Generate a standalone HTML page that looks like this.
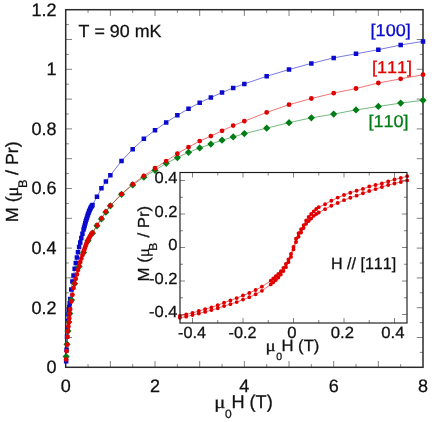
<!DOCTYPE html>
<html><head><meta charset="utf-8"><title>Magnetization</title>
<style>
html,body{margin:0;padding:0;background:#fff;}
body{width:436px;height:422px;overflow:hidden;}
svg{display:block;will-change:transform;text-rendering:geometricPrecision;font-family:"Liberation Sans",sans-serif;font-kerning:none;}
</style></head><body>
<svg width="436" height="422" viewBox="0 0 436 422">
<rect width="436" height="422" fill="#fff"/>
<line x1="88.03" y1="367.30" x2="88.03" y2="364.10" stroke="#5a5a5a" stroke-width="0.75"/>
<line x1="88.03" y1="9.70" x2="88.03" y2="12.90" stroke="#5a5a5a" stroke-width="0.75"/>
<line x1="110.36" y1="367.30" x2="110.36" y2="361.00" stroke="#5a5a5a" stroke-width="0.75"/>
<line x1="110.36" y1="9.70" x2="110.36" y2="16.00" stroke="#5a5a5a" stroke-width="0.75"/>
<line x1="132.69" y1="367.30" x2="132.69" y2="364.10" stroke="#5a5a5a" stroke-width="0.75"/>
<line x1="132.69" y1="9.70" x2="132.69" y2="12.90" stroke="#5a5a5a" stroke-width="0.75"/>
<line x1="155.03" y1="367.30" x2="155.03" y2="361.00" stroke="#5a5a5a" stroke-width="0.75"/>
<line x1="155.03" y1="9.70" x2="155.03" y2="16.00" stroke="#5a5a5a" stroke-width="0.75"/>
<line x1="177.36" y1="367.30" x2="177.36" y2="364.10" stroke="#5a5a5a" stroke-width="0.75"/>
<line x1="177.36" y1="9.70" x2="177.36" y2="12.90" stroke="#5a5a5a" stroke-width="0.75"/>
<line x1="199.69" y1="367.30" x2="199.69" y2="361.00" stroke="#5a5a5a" stroke-width="0.75"/>
<line x1="199.69" y1="9.70" x2="199.69" y2="16.00" stroke="#5a5a5a" stroke-width="0.75"/>
<line x1="222.02" y1="367.30" x2="222.02" y2="364.10" stroke="#5a5a5a" stroke-width="0.75"/>
<line x1="222.02" y1="9.70" x2="222.02" y2="12.90" stroke="#5a5a5a" stroke-width="0.75"/>
<line x1="244.35" y1="367.30" x2="244.35" y2="361.00" stroke="#5a5a5a" stroke-width="0.75"/>
<line x1="244.35" y1="9.70" x2="244.35" y2="16.00" stroke="#5a5a5a" stroke-width="0.75"/>
<line x1="266.68" y1="367.30" x2="266.68" y2="364.10" stroke="#5a5a5a" stroke-width="0.75"/>
<line x1="266.68" y1="9.70" x2="266.68" y2="12.90" stroke="#5a5a5a" stroke-width="0.75"/>
<line x1="289.01" y1="367.30" x2="289.01" y2="361.00" stroke="#5a5a5a" stroke-width="0.75"/>
<line x1="289.01" y1="9.70" x2="289.01" y2="16.00" stroke="#5a5a5a" stroke-width="0.75"/>
<line x1="311.34" y1="367.30" x2="311.34" y2="364.10" stroke="#5a5a5a" stroke-width="0.75"/>
<line x1="311.34" y1="9.70" x2="311.34" y2="12.90" stroke="#5a5a5a" stroke-width="0.75"/>
<line x1="333.68" y1="367.30" x2="333.68" y2="361.00" stroke="#5a5a5a" stroke-width="0.75"/>
<line x1="333.68" y1="9.70" x2="333.68" y2="16.00" stroke="#5a5a5a" stroke-width="0.75"/>
<line x1="356.01" y1="367.30" x2="356.01" y2="364.10" stroke="#5a5a5a" stroke-width="0.75"/>
<line x1="356.01" y1="9.70" x2="356.01" y2="12.90" stroke="#5a5a5a" stroke-width="0.75"/>
<line x1="378.34" y1="367.30" x2="378.34" y2="361.00" stroke="#5a5a5a" stroke-width="0.75"/>
<line x1="378.34" y1="9.70" x2="378.34" y2="16.00" stroke="#5a5a5a" stroke-width="0.75"/>
<line x1="400.67" y1="367.30" x2="400.67" y2="364.10" stroke="#5a5a5a" stroke-width="0.75"/>
<line x1="400.67" y1="9.70" x2="400.67" y2="12.90" stroke="#5a5a5a" stroke-width="0.75"/>
<line x1="65.70" y1="352.40" x2="68.90" y2="352.40" stroke="#5a5a5a" stroke-width="0.75"/>
<line x1="423.00" y1="352.40" x2="419.80" y2="352.40" stroke="#5a5a5a" stroke-width="0.75"/>
<line x1="65.70" y1="337.50" x2="72.00" y2="337.50" stroke="#5a5a5a" stroke-width="0.75"/>
<line x1="423.00" y1="337.50" x2="416.70" y2="337.50" stroke="#5a5a5a" stroke-width="0.75"/>
<line x1="65.70" y1="322.60" x2="68.90" y2="322.60" stroke="#5a5a5a" stroke-width="0.75"/>
<line x1="423.00" y1="322.60" x2="419.80" y2="322.60" stroke="#5a5a5a" stroke-width="0.75"/>
<line x1="65.70" y1="307.70" x2="72.00" y2="307.70" stroke="#5a5a5a" stroke-width="0.75"/>
<line x1="423.00" y1="307.70" x2="416.70" y2="307.70" stroke="#5a5a5a" stroke-width="0.75"/>
<line x1="65.70" y1="292.80" x2="68.90" y2="292.80" stroke="#5a5a5a" stroke-width="0.75"/>
<line x1="423.00" y1="292.80" x2="419.80" y2="292.80" stroke="#5a5a5a" stroke-width="0.75"/>
<line x1="65.70" y1="277.90" x2="72.00" y2="277.90" stroke="#5a5a5a" stroke-width="0.75"/>
<line x1="423.00" y1="277.90" x2="416.70" y2="277.90" stroke="#5a5a5a" stroke-width="0.75"/>
<line x1="65.70" y1="263.00" x2="68.90" y2="263.00" stroke="#5a5a5a" stroke-width="0.75"/>
<line x1="423.00" y1="263.00" x2="419.80" y2="263.00" stroke="#5a5a5a" stroke-width="0.75"/>
<line x1="65.70" y1="248.10" x2="72.00" y2="248.10" stroke="#5a5a5a" stroke-width="0.75"/>
<line x1="423.00" y1="248.10" x2="416.70" y2="248.10" stroke="#5a5a5a" stroke-width="0.75"/>
<line x1="65.70" y1="233.20" x2="68.90" y2="233.20" stroke="#5a5a5a" stroke-width="0.75"/>
<line x1="423.00" y1="233.20" x2="419.80" y2="233.20" stroke="#5a5a5a" stroke-width="0.75"/>
<line x1="65.70" y1="218.30" x2="72.00" y2="218.30" stroke="#5a5a5a" stroke-width="0.75"/>
<line x1="423.00" y1="218.30" x2="416.70" y2="218.30" stroke="#5a5a5a" stroke-width="0.75"/>
<line x1="65.70" y1="203.40" x2="68.90" y2="203.40" stroke="#5a5a5a" stroke-width="0.75"/>
<line x1="423.00" y1="203.40" x2="419.80" y2="203.40" stroke="#5a5a5a" stroke-width="0.75"/>
<line x1="65.70" y1="188.50" x2="72.00" y2="188.50" stroke="#5a5a5a" stroke-width="0.75"/>
<line x1="423.00" y1="188.50" x2="416.70" y2="188.50" stroke="#5a5a5a" stroke-width="0.75"/>
<line x1="65.70" y1="173.60" x2="68.90" y2="173.60" stroke="#5a5a5a" stroke-width="0.75"/>
<line x1="423.00" y1="173.60" x2="419.80" y2="173.60" stroke="#5a5a5a" stroke-width="0.75"/>
<line x1="65.70" y1="158.70" x2="72.00" y2="158.70" stroke="#5a5a5a" stroke-width="0.75"/>
<line x1="423.00" y1="158.70" x2="416.70" y2="158.70" stroke="#5a5a5a" stroke-width="0.75"/>
<line x1="65.70" y1="143.80" x2="68.90" y2="143.80" stroke="#5a5a5a" stroke-width="0.75"/>
<line x1="423.00" y1="143.80" x2="419.80" y2="143.80" stroke="#5a5a5a" stroke-width="0.75"/>
<line x1="65.70" y1="128.90" x2="72.00" y2="128.90" stroke="#5a5a5a" stroke-width="0.75"/>
<line x1="423.00" y1="128.90" x2="416.70" y2="128.90" stroke="#5a5a5a" stroke-width="0.75"/>
<line x1="65.70" y1="114.00" x2="68.90" y2="114.00" stroke="#5a5a5a" stroke-width="0.75"/>
<line x1="423.00" y1="114.00" x2="419.80" y2="114.00" stroke="#5a5a5a" stroke-width="0.75"/>
<line x1="65.70" y1="99.10" x2="72.00" y2="99.10" stroke="#5a5a5a" stroke-width="0.75"/>
<line x1="423.00" y1="99.10" x2="416.70" y2="99.10" stroke="#5a5a5a" stroke-width="0.75"/>
<line x1="65.70" y1="84.20" x2="68.90" y2="84.20" stroke="#5a5a5a" stroke-width="0.75"/>
<line x1="423.00" y1="84.20" x2="419.80" y2="84.20" stroke="#5a5a5a" stroke-width="0.75"/>
<line x1="65.70" y1="69.30" x2="72.00" y2="69.30" stroke="#5a5a5a" stroke-width="0.75"/>
<line x1="423.00" y1="69.30" x2="416.70" y2="69.30" stroke="#5a5a5a" stroke-width="0.75"/>
<line x1="65.70" y1="54.40" x2="68.90" y2="54.40" stroke="#5a5a5a" stroke-width="0.75"/>
<line x1="423.00" y1="54.40" x2="419.80" y2="54.40" stroke="#5a5a5a" stroke-width="0.75"/>
<line x1="65.70" y1="39.50" x2="72.00" y2="39.50" stroke="#5a5a5a" stroke-width="0.75"/>
<line x1="423.00" y1="39.50" x2="416.70" y2="39.50" stroke="#5a5a5a" stroke-width="0.75"/>
<line x1="65.70" y1="24.60" x2="68.90" y2="24.60" stroke="#5a5a5a" stroke-width="0.75"/>
<line x1="423.00" y1="24.60" x2="419.80" y2="24.60" stroke="#5a5a5a" stroke-width="0.75"/>
<rect x="65.70" y="9.70" width="357.30" height="357.60" fill="none" stroke="#2a2a2a" stroke-width="1.5"/>
<polyline points="66.15,356.57 67.04,344.27 67.93,331.06 68.83,322.01 69.72,313.40 71.51,300.05 74.63,283.71 79.10,266.58 83.57,252.53 88.03,240.72 92.50,233.20 96.96,225.84 101.43,218.90 105.90,212.13 110.36,205.84 121.53,194.31 132.69,184.92 143.86,177.18 155.03,170.32 166.19,163.32 177.36,157.63 188.52,152.32 199.69,147.91 210.85,144.10 222.02,140.22 233.18,136.95 244.35,133.61 266.68,128.13 289.01,122.64 311.34,117.87 333.68,114.12 356.01,109.92 378.34,106.43 400.67,103.12 423.00,100.29" fill="none" stroke="#007d14" stroke-width="0.55"/>
<polyline points="66.15,361.19 66.59,349.72 67.04,336.63 67.49,327.95 67.93,320.73 68.38,314.14 68.83,310.13 69.27,307.00 69.72,303.27 70.17,298.95 71.28,289.61 72.40,281.41 73.52,275.47 74.63,268.77 75.75,262.89 76.87,257.59 77.98,252.13 79.10,247.03 80.22,242.38 81.33,238.00 82.45,233.77 83.56,229.62 84.12,227.55 84.68,225.45 85.24,223.34 85.80,221.31 86.36,219.43 86.91,217.65 87.47,215.95 88.03,214.34 88.59,212.81 89.15,211.36 89.71,209.98 90.26,208.72 90.82,207.62 91.38,206.68 91.94,205.81 92.50,204.89 96.96,196.75 101.43,188.35 105.90,181.53 110.36,175.33 121.53,160.94 132.69,149.22 143.86,138.82 155.03,130.21 166.19,122.40 177.36,115.31 188.52,108.81 199.69,102.68 210.85,97.49 222.02,92.60 233.18,87.90 244.35,83.90 266.68,76.30 289.01,69.51 311.34,63.40 333.68,57.89 356.01,53.80 378.34,49.69 400.67,44.98 423.00,41.38" fill="none" stroke="#0a0acd" stroke-width="0.55"/>
<polyline points="66.15,359.40 66.59,351.09 67.04,344.75 67.49,336.90 67.93,331.45 68.38,326.49 68.83,322.33 69.27,318.16 69.72,313.64 70.17,309.23 71.28,301.52 72.40,294.83 73.52,288.11 74.63,283.51 75.75,278.87 76.87,274.32 77.98,270.04 79.10,265.98 80.22,262.11 81.33,258.45 82.45,255.10 83.56,251.93 84.12,250.33 84.68,248.67 85.24,247.00 85.80,245.41 86.36,243.95 86.91,242.60 87.47,241.32 88.03,240.12 88.59,238.99 89.15,237.93 89.71,236.93 90.26,235.99 90.82,235.08 91.38,234.22 91.94,233.42 92.50,232.60 96.96,225.24 101.43,218.30 105.90,211.54 110.36,205.63 121.53,194.04 132.69,184.15 143.86,175.84 155.03,168.24 166.19,161.08 177.36,153.63 188.52,147.14 199.69,141.12 210.85,136.11 222.02,130.81 233.18,125.62 244.35,121.21 266.68,112.42 289.01,104.70 311.34,98.50 333.68,93.14 356.01,88.52 378.34,83.01 400.67,78.84 423.00,74.69" fill="none" stroke="#e00000" stroke-width="0.55"/>
<path d="M63.90 358.94h4.5v4.5h-4.5zM64.34 347.47h4.5v4.5h-4.5zM64.79 334.38h4.5v4.5h-4.5zM65.24 325.70h4.5v4.5h-4.5zM65.68 318.48h4.5v4.5h-4.5zM66.13 311.89h4.5v4.5h-4.5zM66.58 307.88h4.5v4.5h-4.5zM67.02 304.75h4.5v4.5h-4.5zM67.47 301.02h4.5v4.5h-4.5zM67.92 296.70h4.5v4.5h-4.5zM69.03 287.36h4.5v4.5h-4.5zM70.15 279.16h4.5v4.5h-4.5zM71.27 273.22h4.5v4.5h-4.5zM72.38 266.52h4.5v4.5h-4.5zM73.50 260.64h4.5v4.5h-4.5zM74.62 255.34h4.5v4.5h-4.5zM75.73 249.88h4.5v4.5h-4.5zM76.85 244.78h4.5v4.5h-4.5zM77.97 240.13h4.5v4.5h-4.5zM79.08 235.75h4.5v4.5h-4.5zM80.20 231.52h4.5v4.5h-4.5zM81.31 227.37h4.5v4.5h-4.5zM81.87 225.30h4.5v4.5h-4.5zM82.43 223.20h4.5v4.5h-4.5zM82.99 221.09h4.5v4.5h-4.5zM83.55 219.06h4.5v4.5h-4.5zM84.11 217.18h4.5v4.5h-4.5zM84.66 215.40h4.5v4.5h-4.5zM85.22 213.70h4.5v4.5h-4.5zM85.78 212.09h4.5v4.5h-4.5zM86.34 210.56h4.5v4.5h-4.5zM86.90 209.11h4.5v4.5h-4.5zM87.46 207.73h4.5v4.5h-4.5zM88.01 206.47h4.5v4.5h-4.5zM88.57 205.37h4.5v4.5h-4.5zM89.13 204.43h4.5v4.5h-4.5zM89.69 203.56h4.5v4.5h-4.5zM90.25 202.64h4.5v4.5h-4.5zM94.71 194.50h4.5v4.5h-4.5zM99.18 186.10h4.5v4.5h-4.5zM103.65 179.28h4.5v4.5h-4.5zM108.11 173.08h4.5v4.5h-4.5zM119.28 158.69h4.5v4.5h-4.5zM130.44 146.97h4.5v4.5h-4.5zM141.61 136.57h4.5v4.5h-4.5zM152.78 127.96h4.5v4.5h-4.5zM163.94 120.15h4.5v4.5h-4.5zM175.11 113.06h4.5v4.5h-4.5zM186.27 106.56h4.5v4.5h-4.5zM197.44 100.43h4.5v4.5h-4.5zM208.60 95.24h4.5v4.5h-4.5zM219.77 90.35h4.5v4.5h-4.5zM230.93 85.65h4.5v4.5h-4.5zM242.10 81.65h4.5v4.5h-4.5zM264.43 74.05h4.5v4.5h-4.5zM286.76 67.26h4.5v4.5h-4.5zM309.09 61.15h4.5v4.5h-4.5zM331.43 55.64h4.5v4.5h-4.5zM353.76 51.55h4.5v4.5h-4.5zM376.09 47.44h4.5v4.5h-4.5zM398.42 42.73h4.5v4.5h-4.5zM420.75 39.13h4.5v4.5h-4.5z" fill="#0a0acd"/>
<path d="M62.55 356.57l3.6 -3.6l3.6 3.6l-3.6 3.6zM63.44 344.27l3.6 -3.6l3.6 3.6l-3.6 3.6zM64.33 331.06l3.6 -3.6l3.6 3.6l-3.6 3.6zM65.23 322.01l3.6 -3.6l3.6 3.6l-3.6 3.6zM66.12 313.40l3.6 -3.6l3.6 3.6l-3.6 3.6zM67.91 300.05l3.6 -3.6l3.6 3.6l-3.6 3.6zM71.03 283.71l3.6 -3.6l3.6 3.6l-3.6 3.6zM75.50 266.58l3.6 -3.6l3.6 3.6l-3.6 3.6zM79.97 252.53l3.6 -3.6l3.6 3.6l-3.6 3.6zM84.43 240.72l3.6 -3.6l3.6 3.6l-3.6 3.6zM88.90 233.20l3.6 -3.6l3.6 3.6l-3.6 3.6zM93.36 225.84l3.6 -3.6l3.6 3.6l-3.6 3.6zM97.83 218.90l3.6 -3.6l3.6 3.6l-3.6 3.6zM102.30 212.13l3.6 -3.6l3.6 3.6l-3.6 3.6zM106.76 205.84l3.6 -3.6l3.6 3.6l-3.6 3.6zM117.93 194.31l3.6 -3.6l3.6 3.6l-3.6 3.6zM129.09 184.92l3.6 -3.6l3.6 3.6l-3.6 3.6zM140.26 177.18l3.6 -3.6l3.6 3.6l-3.6 3.6zM151.43 170.32l3.6 -3.6l3.6 3.6l-3.6 3.6zM162.59 163.32l3.6 -3.6l3.6 3.6l-3.6 3.6zM173.76 157.63l3.6 -3.6l3.6 3.6l-3.6 3.6zM184.92 152.32l3.6 -3.6l3.6 3.6l-3.6 3.6zM196.09 147.91l3.6 -3.6l3.6 3.6l-3.6 3.6zM207.25 144.10l3.6 -3.6l3.6 3.6l-3.6 3.6zM218.42 140.22l3.6 -3.6l3.6 3.6l-3.6 3.6zM229.58 136.95l3.6 -3.6l3.6 3.6l-3.6 3.6zM240.75 133.61l3.6 -3.6l3.6 3.6l-3.6 3.6zM263.08 128.13l3.6 -3.6l3.6 3.6l-3.6 3.6zM285.41 122.64l3.6 -3.6l3.6 3.6l-3.6 3.6zM307.74 117.87l3.6 -3.6l3.6 3.6l-3.6 3.6zM330.07 114.12l3.6 -3.6l3.6 3.6l-3.6 3.6zM352.41 109.92l3.6 -3.6l3.6 3.6l-3.6 3.6zM374.74 106.43l3.6 -3.6l3.6 3.6l-3.6 3.6zM397.07 103.12l3.6 -3.6l3.6 3.6l-3.6 3.6zM419.40 100.29l3.6 -3.6l3.6 3.6l-3.6 3.6z" fill="#007d14"/>
<path d="M63.75 359.40a2.4 2.4 0 1 0 4.8 0a2.4 2.4 0 1 0 -4.8 0zM64.19 351.09a2.4 2.4 0 1 0 4.8 0a2.4 2.4 0 1 0 -4.8 0zM64.64 344.75a2.4 2.4 0 1 0 4.8 0a2.4 2.4 0 1 0 -4.8 0zM65.09 336.90a2.4 2.4 0 1 0 4.8 0a2.4 2.4 0 1 0 -4.8 0zM65.53 331.45a2.4 2.4 0 1 0 4.8 0a2.4 2.4 0 1 0 -4.8 0zM65.98 326.49a2.4 2.4 0 1 0 4.8 0a2.4 2.4 0 1 0 -4.8 0zM66.43 322.33a2.4 2.4 0 1 0 4.8 0a2.4 2.4 0 1 0 -4.8 0zM66.87 318.16a2.4 2.4 0 1 0 4.8 0a2.4 2.4 0 1 0 -4.8 0zM67.32 313.64a2.4 2.4 0 1 0 4.8 0a2.4 2.4 0 1 0 -4.8 0zM67.77 309.23a2.4 2.4 0 1 0 4.8 0a2.4 2.4 0 1 0 -4.8 0zM68.88 301.52a2.4 2.4 0 1 0 4.8 0a2.4 2.4 0 1 0 -4.8 0zM70.00 294.83a2.4 2.4 0 1 0 4.8 0a2.4 2.4 0 1 0 -4.8 0zM71.12 288.11a2.4 2.4 0 1 0 4.8 0a2.4 2.4 0 1 0 -4.8 0zM72.23 283.51a2.4 2.4 0 1 0 4.8 0a2.4 2.4 0 1 0 -4.8 0zM73.35 278.87a2.4 2.4 0 1 0 4.8 0a2.4 2.4 0 1 0 -4.8 0zM74.47 274.32a2.4 2.4 0 1 0 4.8 0a2.4 2.4 0 1 0 -4.8 0zM75.58 270.04a2.4 2.4 0 1 0 4.8 0a2.4 2.4 0 1 0 -4.8 0zM76.70 265.98a2.4 2.4 0 1 0 4.8 0a2.4 2.4 0 1 0 -4.8 0zM77.82 262.11a2.4 2.4 0 1 0 4.8 0a2.4 2.4 0 1 0 -4.8 0zM78.93 258.45a2.4 2.4 0 1 0 4.8 0a2.4 2.4 0 1 0 -4.8 0zM80.05 255.10a2.4 2.4 0 1 0 4.8 0a2.4 2.4 0 1 0 -4.8 0zM81.16 251.93a2.4 2.4 0 1 0 4.8 0a2.4 2.4 0 1 0 -4.8 0zM81.72 250.33a2.4 2.4 0 1 0 4.8 0a2.4 2.4 0 1 0 -4.8 0zM82.28 248.67a2.4 2.4 0 1 0 4.8 0a2.4 2.4 0 1 0 -4.8 0zM82.84 247.00a2.4 2.4 0 1 0 4.8 0a2.4 2.4 0 1 0 -4.8 0zM83.40 245.41a2.4 2.4 0 1 0 4.8 0a2.4 2.4 0 1 0 -4.8 0zM83.96 243.95a2.4 2.4 0 1 0 4.8 0a2.4 2.4 0 1 0 -4.8 0zM84.51 242.60a2.4 2.4 0 1 0 4.8 0a2.4 2.4 0 1 0 -4.8 0zM85.07 241.32a2.4 2.4 0 1 0 4.8 0a2.4 2.4 0 1 0 -4.8 0zM85.63 240.12a2.4 2.4 0 1 0 4.8 0a2.4 2.4 0 1 0 -4.8 0zM86.19 238.99a2.4 2.4 0 1 0 4.8 0a2.4 2.4 0 1 0 -4.8 0zM86.75 237.93a2.4 2.4 0 1 0 4.8 0a2.4 2.4 0 1 0 -4.8 0zM87.31 236.93a2.4 2.4 0 1 0 4.8 0a2.4 2.4 0 1 0 -4.8 0zM87.86 235.99a2.4 2.4 0 1 0 4.8 0a2.4 2.4 0 1 0 -4.8 0zM88.42 235.08a2.4 2.4 0 1 0 4.8 0a2.4 2.4 0 1 0 -4.8 0zM88.98 234.22a2.4 2.4 0 1 0 4.8 0a2.4 2.4 0 1 0 -4.8 0zM89.54 233.42a2.4 2.4 0 1 0 4.8 0a2.4 2.4 0 1 0 -4.8 0zM90.10 232.60a2.4 2.4 0 1 0 4.8 0a2.4 2.4 0 1 0 -4.8 0zM94.56 225.24a2.4 2.4 0 1 0 4.8 0a2.4 2.4 0 1 0 -4.8 0zM99.03 218.30a2.4 2.4 0 1 0 4.8 0a2.4 2.4 0 1 0 -4.8 0zM103.50 211.54a2.4 2.4 0 1 0 4.8 0a2.4 2.4 0 1 0 -4.8 0zM107.96 205.63a2.4 2.4 0 1 0 4.8 0a2.4 2.4 0 1 0 -4.8 0zM119.13 194.04a2.4 2.4 0 1 0 4.8 0a2.4 2.4 0 1 0 -4.8 0zM130.29 184.15a2.4 2.4 0 1 0 4.8 0a2.4 2.4 0 1 0 -4.8 0zM141.46 175.84a2.4 2.4 0 1 0 4.8 0a2.4 2.4 0 1 0 -4.8 0zM152.62 168.24a2.4 2.4 0 1 0 4.8 0a2.4 2.4 0 1 0 -4.8 0zM163.79 161.08a2.4 2.4 0 1 0 4.8 0a2.4 2.4 0 1 0 -4.8 0zM174.96 153.63a2.4 2.4 0 1 0 4.8 0a2.4 2.4 0 1 0 -4.8 0zM186.12 147.14a2.4 2.4 0 1 0 4.8 0a2.4 2.4 0 1 0 -4.8 0zM197.29 141.12a2.4 2.4 0 1 0 4.8 0a2.4 2.4 0 1 0 -4.8 0zM208.45 136.11a2.4 2.4 0 1 0 4.8 0a2.4 2.4 0 1 0 -4.8 0zM219.62 130.81a2.4 2.4 0 1 0 4.8 0a2.4 2.4 0 1 0 -4.8 0zM230.78 125.62a2.4 2.4 0 1 0 4.8 0a2.4 2.4 0 1 0 -4.8 0zM241.95 121.21a2.4 2.4 0 1 0 4.8 0a2.4 2.4 0 1 0 -4.8 0zM264.28 112.42a2.4 2.4 0 1 0 4.8 0a2.4 2.4 0 1 0 -4.8 0zM286.61 104.70a2.4 2.4 0 1 0 4.8 0a2.4 2.4 0 1 0 -4.8 0zM308.94 98.50a2.4 2.4 0 1 0 4.8 0a2.4 2.4 0 1 0 -4.8 0zM331.28 93.14a2.4 2.4 0 1 0 4.8 0a2.4 2.4 0 1 0 -4.8 0zM353.61 88.52a2.4 2.4 0 1 0 4.8 0a2.4 2.4 0 1 0 -4.8 0zM375.94 83.01a2.4 2.4 0 1 0 4.8 0a2.4 2.4 0 1 0 -4.8 0zM398.27 78.84a2.4 2.4 0 1 0 4.8 0a2.4 2.4 0 1 0 -4.8 0zM420.60 74.69a2.4 2.4 0 1 0 4.8 0a2.4 2.4 0 1 0 -4.8 0z" fill="#e00000"/>
<text transform="translate(65.70,392.20) scale(1.0,1)" font-size="18" text-anchor="middle" fill="#111" stroke="#111" stroke-width="0.28">0</text>
<text transform="translate(155.03,392.20) scale(1.0,1)" font-size="18" text-anchor="middle" fill="#111" stroke="#111" stroke-width="0.28">2</text>
<text transform="translate(244.35,392.20) scale(1.0,1)" font-size="18" text-anchor="middle" fill="#111" stroke="#111" stroke-width="0.28">4</text>
<text transform="translate(333.68,392.20) scale(1.0,1)" font-size="18" text-anchor="middle" fill="#111" stroke="#111" stroke-width="0.28">6</text>
<text transform="translate(423.00,392.20) scale(1.0,1)" font-size="18" text-anchor="middle" fill="#111" stroke="#111" stroke-width="0.28">8</text>
<text transform="translate(56.60,373.10) scale(1.0,1)" font-size="18" text-anchor="end" fill="#111" stroke="#111" stroke-width="0.28">0</text>
<text transform="translate(56.60,313.50) scale(1.0,1)" font-size="18" text-anchor="end" fill="#111" stroke="#111" stroke-width="0.28">0.2</text>
<text transform="translate(56.60,253.90) scale(1.0,1)" font-size="18" text-anchor="end" fill="#111" stroke="#111" stroke-width="0.28">0.4</text>
<text transform="translate(56.60,194.30) scale(1.0,1)" font-size="18" text-anchor="end" fill="#111" stroke="#111" stroke-width="0.28">0.6</text>
<text transform="translate(56.60,134.70) scale(1.0,1)" font-size="18" text-anchor="end" fill="#111" stroke="#111" stroke-width="0.28">0.8</text>
<text transform="translate(56.60,75.10) scale(1.0,1)" font-size="18" text-anchor="end" fill="#111" stroke="#111" stroke-width="0.28">1</text>
<text transform="translate(56.60,15.50) scale(1.0,1)" font-size="18" text-anchor="end" fill="#111" stroke="#111" stroke-width="0.28">1.2</text>
<text transform="translate(214.30,408.00) scale(1.15,1)" font-size="18" text-anchor="start" fill="#111" stroke="#111" stroke-width="0.28"><tspan font-family="Liberation Serif" font-size="18">μ</tspan></text>
<text transform="translate(225.00,418.30) scale(1.0,1)" font-size="12" text-anchor="start" fill="#111" stroke="#111" stroke-width="0.28">0</text>
<text transform="translate(231.40,408.00) scale(0.98,1)" font-size="18.5" text-anchor="start" fill="#111" stroke="#111" stroke-width="0.28">H (T)</text>
<text transform="translate(17.80,222.20) rotate(-90) scale(1.02,1)" font-size="17.5" text-anchor="start" fill="#111" stroke="#111" stroke-width="0.28">M (<tspan font-family="Liberation Serif" font-size="18">μ</tspan><tspan font-size="12.5" dy="9.5" dx="-1.3">B</tspan><tspan dy="-9.5" dx="-0.6"> / Pr)</tspan></text>
<text transform="translate(78.60,37.00) scale(1.02,1)" font-size="17.5" text-anchor="start" fill="#111" stroke="#111" stroke-width="0.28">T = 90 mK</text>
<text transform="translate(370.60,36.20) scale(1.06,1)" font-size="17" text-anchor="start" fill="#0a0acd" stroke="#0a0acd" stroke-width="0.28">[100]</text>
<text transform="translate(372.00,73.00) scale(1.06,1)" font-size="17" text-anchor="start" fill="#e00000" stroke="#e00000" stroke-width="0.28">[111]</text>
<text transform="translate(368.40,127.00) scale(1.06,1)" font-size="17" text-anchor="start" fill="#007d14" stroke="#007d14" stroke-width="0.28">[110]</text>
<rect x="180.00" y="172.50" width="227.00" height="150.50" fill="#fff"/>
<line x1="192.50" y1="323.00" x2="192.50" y2="318.00" stroke="#5a5a5a" stroke-width="0.75"/>
<line x1="192.50" y1="172.50" x2="192.50" y2="177.50" stroke="#5a5a5a" stroke-width="0.75"/>
<line x1="180.00" y1="314.50" x2="185.00" y2="314.50" stroke="#5a5a5a" stroke-width="0.75"/>
<line x1="407.00" y1="314.50" x2="402.00" y2="314.50" stroke="#5a5a5a" stroke-width="0.75"/>
<line x1="217.75" y1="323.00" x2="217.75" y2="320.00" stroke="#5a5a5a" stroke-width="0.75"/>
<line x1="217.75" y1="172.50" x2="217.75" y2="175.50" stroke="#5a5a5a" stroke-width="0.75"/>
<line x1="180.00" y1="297.75" x2="183.00" y2="297.75" stroke="#5a5a5a" stroke-width="0.75"/>
<line x1="407.00" y1="297.75" x2="404.00" y2="297.75" stroke="#5a5a5a" stroke-width="0.75"/>
<line x1="243.00" y1="323.00" x2="243.00" y2="318.00" stroke="#5a5a5a" stroke-width="0.75"/>
<line x1="243.00" y1="172.50" x2="243.00" y2="177.50" stroke="#5a5a5a" stroke-width="0.75"/>
<line x1="180.00" y1="281.00" x2="185.00" y2="281.00" stroke="#5a5a5a" stroke-width="0.75"/>
<line x1="407.00" y1="281.00" x2="402.00" y2="281.00" stroke="#5a5a5a" stroke-width="0.75"/>
<line x1="268.25" y1="323.00" x2="268.25" y2="320.00" stroke="#5a5a5a" stroke-width="0.75"/>
<line x1="268.25" y1="172.50" x2="268.25" y2="175.50" stroke="#5a5a5a" stroke-width="0.75"/>
<line x1="180.00" y1="264.25" x2="183.00" y2="264.25" stroke="#5a5a5a" stroke-width="0.75"/>
<line x1="407.00" y1="264.25" x2="404.00" y2="264.25" stroke="#5a5a5a" stroke-width="0.75"/>
<line x1="293.50" y1="323.00" x2="293.50" y2="318.00" stroke="#5a5a5a" stroke-width="0.75"/>
<line x1="293.50" y1="172.50" x2="293.50" y2="177.50" stroke="#5a5a5a" stroke-width="0.75"/>
<line x1="180.00" y1="247.50" x2="185.00" y2="247.50" stroke="#5a5a5a" stroke-width="0.75"/>
<line x1="407.00" y1="247.50" x2="402.00" y2="247.50" stroke="#5a5a5a" stroke-width="0.75"/>
<line x1="318.75" y1="323.00" x2="318.75" y2="320.00" stroke="#5a5a5a" stroke-width="0.75"/>
<line x1="318.75" y1="172.50" x2="318.75" y2="175.50" stroke="#5a5a5a" stroke-width="0.75"/>
<line x1="180.00" y1="230.75" x2="183.00" y2="230.75" stroke="#5a5a5a" stroke-width="0.75"/>
<line x1="407.00" y1="230.75" x2="404.00" y2="230.75" stroke="#5a5a5a" stroke-width="0.75"/>
<line x1="344.00" y1="323.00" x2="344.00" y2="318.00" stroke="#5a5a5a" stroke-width="0.75"/>
<line x1="344.00" y1="172.50" x2="344.00" y2="177.50" stroke="#5a5a5a" stroke-width="0.75"/>
<line x1="180.00" y1="214.00" x2="185.00" y2="214.00" stroke="#5a5a5a" stroke-width="0.75"/>
<line x1="407.00" y1="214.00" x2="402.00" y2="214.00" stroke="#5a5a5a" stroke-width="0.75"/>
<line x1="369.25" y1="323.00" x2="369.25" y2="320.00" stroke="#5a5a5a" stroke-width="0.75"/>
<line x1="369.25" y1="172.50" x2="369.25" y2="175.50" stroke="#5a5a5a" stroke-width="0.75"/>
<line x1="180.00" y1="197.25" x2="183.00" y2="197.25" stroke="#5a5a5a" stroke-width="0.75"/>
<line x1="407.00" y1="197.25" x2="404.00" y2="197.25" stroke="#5a5a5a" stroke-width="0.75"/>
<line x1="394.50" y1="323.00" x2="394.50" y2="318.00" stroke="#5a5a5a" stroke-width="0.75"/>
<line x1="394.50" y1="172.50" x2="394.50" y2="177.50" stroke="#5a5a5a" stroke-width="0.75"/>
<line x1="180.00" y1="180.50" x2="185.00" y2="180.50" stroke="#5a5a5a" stroke-width="0.75"/>
<line x1="407.00" y1="180.50" x2="402.00" y2="180.50" stroke="#5a5a5a" stroke-width="0.75"/>
<polyline points="179.88,315.89 186.19,314.53 192.50,312.95 198.81,311.02 205.12,309.25 211.44,307.33 217.75,305.18 224.06,302.74 230.38,300.40 236.69,298.10 243.00,295.46 249.31,292.94 255.63,290.06 261.94,286.63 270.77,280.73 273.30,278.52 275.82,276.09 278.35,273.87 280.88,271.20 283.40,267.83 285.93,263.98 288.45,259.55 290.97,253.94 293.50,246.90 296.02,238.77 298.55,233.27 301.07,229.21 303.60,225.12 306.12,220.43 308.65,217.03 311.17,214.01 313.70,211.34 316.22,209.00 318.75,207.16 325.06,204.21 331.38,200.70 337.69,197.62 344.00,195.02 350.31,192.75 356.62,190.81 362.94,188.92 369.25,186.58 375.56,185.07 381.88,183.42 388.19,181.43 394.50,179.49 400.81,178.01 407.12,176.16" fill="none" stroke="#e00000" stroke-width="0.6"/>
<polyline points="179.88,317.79 186.19,316.67 192.50,315.09 198.81,313.48 205.12,311.89 211.44,310.08 217.75,308.21 224.06,306.11 230.38,304.17 236.69,302.11 243.00,299.59 249.31,297.30 255.63,294.30 261.94,290.87 270.77,284.40 273.30,282.26 275.82,280.05 278.35,277.46 280.88,274.59 283.40,270.95 285.93,267.15 288.45,262.16 290.97,256.91 293.50,249.38 296.02,241.99 298.55,236.70 301.07,232.54 303.60,228.01 306.12,223.87 308.65,221.05 311.17,218.51 313.70,215.83 316.22,214.02 318.75,212.54 325.06,209.13 331.38,205.71 337.69,202.93 344.00,200.16 350.31,197.74 356.62,195.63 362.94,193.25 369.25,191.08 375.56,189.08 381.88,187.00 388.19,185.07 394.50,183.56 400.81,181.97 407.12,180.41" fill="none" stroke="#e00000" stroke-width="0.6"/>
<path d="M177.93 315.89a1.95 1.95 0 1 0 3.9 0a1.95 1.95 0 1 0 -3.9 0zM184.24 314.53a1.95 1.95 0 1 0 3.9 0a1.95 1.95 0 1 0 -3.9 0zM190.55 312.95a1.95 1.95 0 1 0 3.9 0a1.95 1.95 0 1 0 -3.9 0zM196.86 311.02a1.95 1.95 0 1 0 3.9 0a1.95 1.95 0 1 0 -3.9 0zM203.18 309.25a1.95 1.95 0 1 0 3.9 0a1.95 1.95 0 1 0 -3.9 0zM209.49 307.33a1.95 1.95 0 1 0 3.9 0a1.95 1.95 0 1 0 -3.9 0zM215.80 305.18a1.95 1.95 0 1 0 3.9 0a1.95 1.95 0 1 0 -3.9 0zM222.11 302.74a1.95 1.95 0 1 0 3.9 0a1.95 1.95 0 1 0 -3.9 0zM228.43 300.40a1.95 1.95 0 1 0 3.9 0a1.95 1.95 0 1 0 -3.9 0zM234.74 298.10a1.95 1.95 0 1 0 3.9 0a1.95 1.95 0 1 0 -3.9 0zM241.05 295.46a1.95 1.95 0 1 0 3.9 0a1.95 1.95 0 1 0 -3.9 0zM247.36 292.94a1.95 1.95 0 1 0 3.9 0a1.95 1.95 0 1 0 -3.9 0zM253.68 290.06a1.95 1.95 0 1 0 3.9 0a1.95 1.95 0 1 0 -3.9 0zM259.99 286.63a1.95 1.95 0 1 0 3.9 0a1.95 1.95 0 1 0 -3.9 0zM268.82 280.73a1.95 1.95 0 1 0 3.9 0a1.95 1.95 0 1 0 -3.9 0zM271.35 278.52a1.95 1.95 0 1 0 3.9 0a1.95 1.95 0 1 0 -3.9 0zM273.88 276.09a1.95 1.95 0 1 0 3.9 0a1.95 1.95 0 1 0 -3.9 0zM276.40 273.87a1.95 1.95 0 1 0 3.9 0a1.95 1.95 0 1 0 -3.9 0zM278.93 271.20a1.95 1.95 0 1 0 3.9 0a1.95 1.95 0 1 0 -3.9 0zM281.45 267.83a1.95 1.95 0 1 0 3.9 0a1.95 1.95 0 1 0 -3.9 0zM283.98 263.98a1.95 1.95 0 1 0 3.9 0a1.95 1.95 0 1 0 -3.9 0zM286.50 259.55a1.95 1.95 0 1 0 3.9 0a1.95 1.95 0 1 0 -3.9 0zM289.02 253.94a1.95 1.95 0 1 0 3.9 0a1.95 1.95 0 1 0 -3.9 0zM291.55 246.90a1.95 1.95 0 1 0 3.9 0a1.95 1.95 0 1 0 -3.9 0zM294.07 238.77a1.95 1.95 0 1 0 3.9 0a1.95 1.95 0 1 0 -3.9 0zM296.60 233.27a1.95 1.95 0 1 0 3.9 0a1.95 1.95 0 1 0 -3.9 0zM299.12 229.21a1.95 1.95 0 1 0 3.9 0a1.95 1.95 0 1 0 -3.9 0zM301.65 225.12a1.95 1.95 0 1 0 3.9 0a1.95 1.95 0 1 0 -3.9 0zM304.18 220.43a1.95 1.95 0 1 0 3.9 0a1.95 1.95 0 1 0 -3.9 0zM306.70 217.03a1.95 1.95 0 1 0 3.9 0a1.95 1.95 0 1 0 -3.9 0zM309.22 214.01a1.95 1.95 0 1 0 3.9 0a1.95 1.95 0 1 0 -3.9 0zM311.75 211.34a1.95 1.95 0 1 0 3.9 0a1.95 1.95 0 1 0 -3.9 0zM314.27 209.00a1.95 1.95 0 1 0 3.9 0a1.95 1.95 0 1 0 -3.9 0zM316.80 207.16a1.95 1.95 0 1 0 3.9 0a1.95 1.95 0 1 0 -3.9 0zM323.11 204.21a1.95 1.95 0 1 0 3.9 0a1.95 1.95 0 1 0 -3.9 0zM329.43 200.70a1.95 1.95 0 1 0 3.9 0a1.95 1.95 0 1 0 -3.9 0zM335.74 197.62a1.95 1.95 0 1 0 3.9 0a1.95 1.95 0 1 0 -3.9 0zM342.05 195.02a1.95 1.95 0 1 0 3.9 0a1.95 1.95 0 1 0 -3.9 0zM348.36 192.75a1.95 1.95 0 1 0 3.9 0a1.95 1.95 0 1 0 -3.9 0zM354.68 190.81a1.95 1.95 0 1 0 3.9 0a1.95 1.95 0 1 0 -3.9 0zM360.99 188.92a1.95 1.95 0 1 0 3.9 0a1.95 1.95 0 1 0 -3.9 0zM367.30 186.58a1.95 1.95 0 1 0 3.9 0a1.95 1.95 0 1 0 -3.9 0zM373.61 185.07a1.95 1.95 0 1 0 3.9 0a1.95 1.95 0 1 0 -3.9 0zM379.93 183.42a1.95 1.95 0 1 0 3.9 0a1.95 1.95 0 1 0 -3.9 0zM386.24 181.43a1.95 1.95 0 1 0 3.9 0a1.95 1.95 0 1 0 -3.9 0zM392.55 179.49a1.95 1.95 0 1 0 3.9 0a1.95 1.95 0 1 0 -3.9 0zM398.86 178.01a1.95 1.95 0 1 0 3.9 0a1.95 1.95 0 1 0 -3.9 0zM405.18 176.16a1.95 1.95 0 1 0 3.9 0a1.95 1.95 0 1 0 -3.9 0z" fill="#e00000"/>
<path d="M177.93 317.79a1.95 1.95 0 1 0 3.9 0a1.95 1.95 0 1 0 -3.9 0zM184.24 316.67a1.95 1.95 0 1 0 3.9 0a1.95 1.95 0 1 0 -3.9 0zM190.55 315.09a1.95 1.95 0 1 0 3.9 0a1.95 1.95 0 1 0 -3.9 0zM196.86 313.48a1.95 1.95 0 1 0 3.9 0a1.95 1.95 0 1 0 -3.9 0zM203.18 311.89a1.95 1.95 0 1 0 3.9 0a1.95 1.95 0 1 0 -3.9 0zM209.49 310.08a1.95 1.95 0 1 0 3.9 0a1.95 1.95 0 1 0 -3.9 0zM215.80 308.21a1.95 1.95 0 1 0 3.9 0a1.95 1.95 0 1 0 -3.9 0zM222.11 306.11a1.95 1.95 0 1 0 3.9 0a1.95 1.95 0 1 0 -3.9 0zM228.43 304.17a1.95 1.95 0 1 0 3.9 0a1.95 1.95 0 1 0 -3.9 0zM234.74 302.11a1.95 1.95 0 1 0 3.9 0a1.95 1.95 0 1 0 -3.9 0zM241.05 299.59a1.95 1.95 0 1 0 3.9 0a1.95 1.95 0 1 0 -3.9 0zM247.36 297.30a1.95 1.95 0 1 0 3.9 0a1.95 1.95 0 1 0 -3.9 0zM253.68 294.30a1.95 1.95 0 1 0 3.9 0a1.95 1.95 0 1 0 -3.9 0zM259.99 290.87a1.95 1.95 0 1 0 3.9 0a1.95 1.95 0 1 0 -3.9 0zM268.82 284.40a1.95 1.95 0 1 0 3.9 0a1.95 1.95 0 1 0 -3.9 0zM271.35 282.26a1.95 1.95 0 1 0 3.9 0a1.95 1.95 0 1 0 -3.9 0zM273.88 280.05a1.95 1.95 0 1 0 3.9 0a1.95 1.95 0 1 0 -3.9 0zM276.40 277.46a1.95 1.95 0 1 0 3.9 0a1.95 1.95 0 1 0 -3.9 0zM278.93 274.59a1.95 1.95 0 1 0 3.9 0a1.95 1.95 0 1 0 -3.9 0zM281.45 270.95a1.95 1.95 0 1 0 3.9 0a1.95 1.95 0 1 0 -3.9 0zM283.98 267.15a1.95 1.95 0 1 0 3.9 0a1.95 1.95 0 1 0 -3.9 0zM286.50 262.16a1.95 1.95 0 1 0 3.9 0a1.95 1.95 0 1 0 -3.9 0zM289.02 256.91a1.95 1.95 0 1 0 3.9 0a1.95 1.95 0 1 0 -3.9 0zM291.55 249.38a1.95 1.95 0 1 0 3.9 0a1.95 1.95 0 1 0 -3.9 0zM294.07 241.99a1.95 1.95 0 1 0 3.9 0a1.95 1.95 0 1 0 -3.9 0zM296.60 236.70a1.95 1.95 0 1 0 3.9 0a1.95 1.95 0 1 0 -3.9 0zM299.12 232.54a1.95 1.95 0 1 0 3.9 0a1.95 1.95 0 1 0 -3.9 0zM301.65 228.01a1.95 1.95 0 1 0 3.9 0a1.95 1.95 0 1 0 -3.9 0zM304.18 223.87a1.95 1.95 0 1 0 3.9 0a1.95 1.95 0 1 0 -3.9 0zM306.70 221.05a1.95 1.95 0 1 0 3.9 0a1.95 1.95 0 1 0 -3.9 0zM309.22 218.51a1.95 1.95 0 1 0 3.9 0a1.95 1.95 0 1 0 -3.9 0zM311.75 215.83a1.95 1.95 0 1 0 3.9 0a1.95 1.95 0 1 0 -3.9 0zM314.27 214.02a1.95 1.95 0 1 0 3.9 0a1.95 1.95 0 1 0 -3.9 0zM316.80 212.54a1.95 1.95 0 1 0 3.9 0a1.95 1.95 0 1 0 -3.9 0zM323.11 209.13a1.95 1.95 0 1 0 3.9 0a1.95 1.95 0 1 0 -3.9 0zM329.43 205.71a1.95 1.95 0 1 0 3.9 0a1.95 1.95 0 1 0 -3.9 0zM335.74 202.93a1.95 1.95 0 1 0 3.9 0a1.95 1.95 0 1 0 -3.9 0zM342.05 200.16a1.95 1.95 0 1 0 3.9 0a1.95 1.95 0 1 0 -3.9 0zM348.36 197.74a1.95 1.95 0 1 0 3.9 0a1.95 1.95 0 1 0 -3.9 0zM354.68 195.63a1.95 1.95 0 1 0 3.9 0a1.95 1.95 0 1 0 -3.9 0zM360.99 193.25a1.95 1.95 0 1 0 3.9 0a1.95 1.95 0 1 0 -3.9 0zM367.30 191.08a1.95 1.95 0 1 0 3.9 0a1.95 1.95 0 1 0 -3.9 0zM373.61 189.08a1.95 1.95 0 1 0 3.9 0a1.95 1.95 0 1 0 -3.9 0zM379.93 187.00a1.95 1.95 0 1 0 3.9 0a1.95 1.95 0 1 0 -3.9 0zM386.24 185.07a1.95 1.95 0 1 0 3.9 0a1.95 1.95 0 1 0 -3.9 0zM392.55 183.56a1.95 1.95 0 1 0 3.9 0a1.95 1.95 0 1 0 -3.9 0zM398.86 181.97a1.95 1.95 0 1 0 3.9 0a1.95 1.95 0 1 0 -3.9 0zM405.18 180.41a1.95 1.95 0 1 0 3.9 0a1.95 1.95 0 1 0 -3.9 0z" fill="#e00000"/>
<rect x="180.00" y="172.50" width="227.00" height="150.50" fill="none" stroke="#1c1c1c" stroke-width="1.15"/>
<text transform="translate(192.00,337.70) scale(1.0,1)" font-size="16.2" text-anchor="middle" fill="#111" stroke="#111" stroke-width="0.28">-0.4</text>
<text transform="translate(177.40,317.40) scale(1.03,1)" font-size="16" text-anchor="end" fill="#111" stroke="#111" stroke-width="0.28">-0.4</text>
<text transform="translate(242.50,337.70) scale(1.0,1)" font-size="16.2" text-anchor="middle" fill="#111" stroke="#111" stroke-width="0.28">-0.2</text>
<text transform="translate(177.40,283.90) scale(1.03,1)" font-size="16" text-anchor="end" fill="#111" stroke="#111" stroke-width="0.28">-0.2</text>
<text transform="translate(291.90,337.70) scale(1.03,1)" font-size="16.2" text-anchor="middle" fill="#111" stroke="#111" stroke-width="0.28">0</text>
<text transform="translate(177.40,250.40) scale(1.03,1)" font-size="16" text-anchor="end" fill="#111" stroke="#111" stroke-width="0.28">0</text>
<text transform="translate(342.40,337.70) scale(1.03,1)" font-size="16.2" text-anchor="middle" fill="#111" stroke="#111" stroke-width="0.28">0.2</text>
<text transform="translate(177.40,216.90) scale(1.03,1)" font-size="16" text-anchor="end" fill="#111" stroke="#111" stroke-width="0.28">0.2</text>
<text transform="translate(392.90,337.70) scale(1.03,1)" font-size="16.2" text-anchor="middle" fill="#111" stroke="#111" stroke-width="0.28">0.4</text>
<text transform="translate(177.40,183.40) scale(1.03,1)" font-size="16" text-anchor="end" fill="#111" stroke="#111" stroke-width="0.28">0.4</text>
<text transform="translate(330.90,268.70) scale(0.995,1)" font-size="16.2" text-anchor="start" fill="#111" stroke="#111" stroke-width="0.28">H // [111]</text>
<text transform="translate(265.60,350.80) scale(1.15,1)" font-size="16" text-anchor="start" fill="#111" stroke="#111" stroke-width="0.28"><tspan font-family="Liberation Serif" font-size="16.5">μ</tspan></text>
<text transform="translate(276.20,359.90) scale(1.0,1)" font-size="10.5" text-anchor="start" fill="#111" stroke="#111" stroke-width="0.28">0</text>
<text transform="translate(281.40,350.80) scale(1.03,1)" font-size="16.2" text-anchor="start" fill="#111" stroke="#111" stroke-width="0.28">H (T)</text>
<text transform="translate(148.60,281.50) rotate(-90) scale(1.05,1)" font-size="16" text-anchor="start" fill="#111" stroke="#111" stroke-width="0.28">M (<tspan font-family="Liberation Serif" font-size="16.5">μ</tspan><tspan font-size="11.5" dy="8" dx="-2.6">B</tspan><tspan dy="-8" dx="0.4"> / Pr)</tspan></text>
</svg>
</body></html>
